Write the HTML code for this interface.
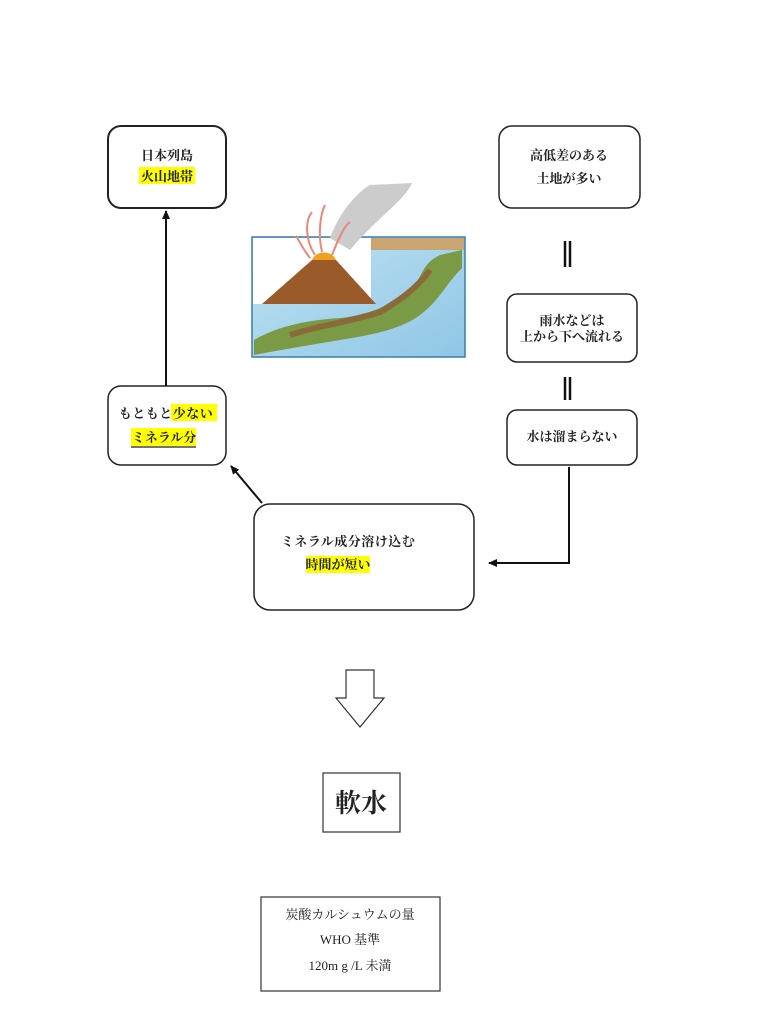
<!DOCTYPE html>
<html><head><meta charset="utf-8"><style>
body{margin:0;background:#fff}
svg text{font-family:"Liberation Serif","Noto Serif CJK SC","Noto Sans CJK JP",serif;fill:#222}
.b text{font-weight:bold}
</style></head><body>
<svg width="784" height="1024" xmlns="http://www.w3.org/2000/svg">
<defs><marker id="a" markerWidth="10" markerHeight="10" refX="8" refY="5" orient="auto" markerUnits="userSpaceOnUse"><path d="M0,1 L9,5 L0,9 z" fill="#111"/></marker>
<linearGradient id="sea" x1="0" y1="0" x2="1" y2="1"><stop offset="0" stop-color="#bfe3f2"/><stop offset="1" stop-color="#8fc6e6"/></linearGradient></defs>
<g fill="#fff" stroke="#222" stroke-width="2">
<rect x="108" y="126" width="118" height="82" rx="13"/>
<rect x="499" y="126" width="141" height="82" rx="13" stroke-width="1.5"/>
<rect x="507" y="294" width="130" height="68" rx="10" stroke-width="1.5"/>
<rect x="507" y="410" width="130" height="55" rx="10" stroke-width="1.5"/>
<rect x="108" y="386" width="118" height="79" rx="13" stroke-width="1.5"/>
<rect x="254" y="504" width="220" height="106" rx="16" stroke-width="1.5"/>
</g>
<g stroke="#111" stroke-width="2" fill="none">
<line x1="166" y1="386" x2="166" y2="211" marker-end="url(#a)"/>
<line x1="262" y1="503" x2="231" y2="466" marker-end="url(#a)"/>
<polyline points="569,467 569,563 489,563" marker-end="url(#a)"/>
<line x1="565" y1="241" x2="565" y2="267" stroke-width="2.5"/><line x1="570" y1="241" x2="570" y2="267" stroke-width="2.5"/>
<line x1="565" y1="377" x2="565" y2="400" stroke-width="2.5"/><line x1="570" y1="377" x2="570" y2="400" stroke-width="2.5"/>
</g>
<rect x="252" y="237" width="213" height="120" fill="url(#sea)" stroke="#3a7bb0" stroke-width="1.5"/>
<path d="M254,340 C280,325 310,320 340,318 C370,315 390,305 410,290 C425,275 420,265 440,255 L462,250 L462,268 C445,285 440,300 420,315 C400,330 370,335 340,340 C310,345 280,350 254,355 Z" fill="#7a9a45"/>
<path d="M290,335 C320,325 350,322 380,312 C400,300 415,290 430,270" stroke="#8b6a3a" stroke-width="6" fill="none"/>
<rect x="371" y="238" width="93" height="12" fill="#c9a572"/>
<rect x="253" y="238" width="118" height="66" fill="#fff"/>
<path d="M330,238 C340,210 360,190 370,185 L412,183 C405,200 380,215 350,250 Z" fill="#ccc"/>
<path d="M262,304 L312,260 L336,260 L376,304 Z" fill="#9a5a2a"/>
<path d="M312,260 C316,250 332,250 336,260 Z" fill="#f0a020"/>
<g stroke="#e8887a" stroke-width="2" fill="none"><path d="M315,255 C305,240 305,220 312,212"/><path d="M322,252 C318,235 320,215 325,205"/><path d="M332,255 C340,235 345,225 350,222"/><path d="M310,258 C300,245 298,238 296,236"/></g>
<g font-size="13" text-anchor="middle" class="b">
<text x="167" y="160">日本列島</text>
<rect x="139" y="167" width="56" height="17" fill="#ffff00"/>
<text x="167" y="181">火山地帯</text>
<text x="569" y="160">高低差のある</text>
<text x="569" y="183">土地が多い</text>
<text x="572" y="325">雨水などは</text>
<text x="572" y="341">上から下へ流れる</text>
<text x="572" y="441">水は溜まらない</text>
<rect x="171" y="404" width="46" height="17" fill="#ffff00"/>
<rect x="131" y="428" width="65" height="18" fill="#ffff00"/>
<text x="166" y="418" letter-spacing="0.5">もともと少ない</text>
<text x="164" y="442">ミネラル分</text>
<line x1="131" y1="447" x2="196" y2="447" stroke="#222" stroke-width="1.2"/>
<text x="348" y="546" letter-spacing="0.5">ミネラル成分溶け込む</text>
<rect x="306" y="556" width="64" height="17" fill="#ffff00"/>
<text x="338" y="569">時間が短い</text>
</g>
<path d="M346,670 L374,670 L374,698 L384,698 L360,727 L336,698 L346,698 Z" fill="#fff" stroke="#333" stroke-width="1.2"/>
<rect x="323" y="773" width="77" height="59" fill="#fff" stroke="#333" stroke-width="1.2"/>
<text x="361" y="812" font-size="26" text-anchor="middle" font-weight="bold">軟水</text>
<rect x="261" y="897" width="179" height="94" fill="#fff" stroke="#333" stroke-width="1.2"/>
<g font-size="13" text-anchor="middle">
<text x="350" y="919">炭酸カルシュウムの量</text>
<text x="350" y="944">WHO 基準</text>
<text x="350" y="970">120m g /L 未満</text>
</g>
</svg>
</body></html>
